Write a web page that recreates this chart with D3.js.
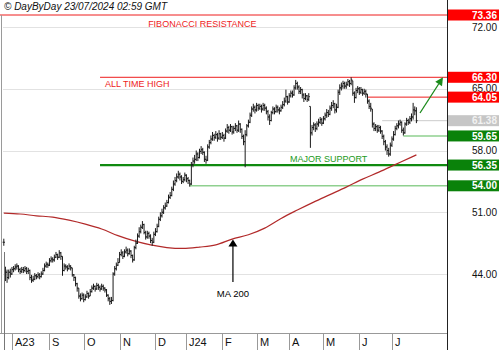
<!DOCTYPE html>
<html><head><meta charset="utf-8">
<script src="https://cdn.jsdelivr.net/npm/d3@7"></script>
<style>body{margin:0;background:#fff}svg{display:block}text{font-family:"Liberation Sans",Arial,Helvetica,sans-serif}</style>
</head><body><svg id="c" width="500" height="350"></svg>
<script>
// ---------- DATA ----------
const startDate = "2023-07-25";
const holidays = ["2023-12-25","2023-12-26","2024-01-01","2024-03-29","2024-04-01","2024-05-01"];
const closes = [
47.6,44.2,43.6,44.2,44.0,44.5,44.6,44.8,44.9,44.5,
44.3,44.5,44.4,44.6,44.3,44.4,43.6,43.3,43.4,43.8,
43.7,43.9,43.7,44.0,44.4,44.9,45.1,45.0,45.5,45.7,
45.6,45.9,46.2,45.9,46.4,46.0,44.4,44.9,44.8,44.6,
44.9,44.7,43.9,43.6,42.9,42.4,41.5,41.2,41.6,41.1,
41.4,41.8,41.5,42.0,42.4,42.6,42.3,42.7,42.5,42.3,
42.6,42.4,42.2,41.6,41.2,40.9,41.0,44.0,44.6,45.0,
45.3,46.2,46.4,46.0,46.5,46.7,46.3,46.6,46.1,45.6,
47.0,47.5,48.3,48.8,49.3,49.6,48.7,48.2,48.6,48.3,
47.8,47.6,48.5,48.8,49.4,50.2,50.6,51.0,51.5,51.7,
52.1,52.7,52.9,53.6,54.2,54.6,55.0,55.3,55.0,54.5,
54.7,55.2,54.8,54.6,54.2,56.4,56.8,57.0,57.6,57.2,
57.9,58.1,57.8,57.0,56.9,58.4,58.9,59.3,59.7,59.5,
59.8,59.4,59.9,59.5,59.7,59.4,60.2,60.6,60.3,60.7,
60.1,60.5,60.8,60.3,61.0,60.4,59.6,59.0,59.8,60.8,
61.2,62.0,62.7,62.9,62.6,63.1,62.8,63.0,62.7,63.1,
62.8,62.4,61.8,61.4,62.3,62.7,62.4,62.9,62.6,62.5,
62.9,63.2,63.6,64.1,63.5,64.2,64.5,64.3,65.1,65.6,
65.2,64.7,64.9,64.3,63.9,64.2,63.8,64.1,60.0,60.6,
60.9,60.5,61.0,61.2,61.5,61.1,61.6,62.0,62.3,62.1,
62.8,63.1,63.3,62.6,62.9,64.6,65.1,65.3,65.6,65.3,
65.5,65.8,65.6,66.0,64.5,64.0,64.8,65.0,64.6,64.9,
64.5,64.7,64.4,63.6,63.0,62.8,61.0,60.5,60.7,60.3,
60.6,60.2,59.6,59.0,58.4,58.0,57.6,58.6,59.3,59.8,
60.5,60.8,61.0,61.2,60.3,60.0,61.0,61.4,61.2,61.6,
61.8,62.6,62.5,61.38];
const highs = [
48.0,44.8,44.5,44.5,44.6,44.8,44.9,45.1,45.2,45.0,
44.7,44.8,44.8,44.9,44.8,44.7,44.5,43.9,43.8,44.1,
44.0,44.2,44.1,44.3,44.7,45.2,45.4,45.3,45.8,46.0,
45.9,46.2,46.5,46.3,46.7,46.5,46.0,45.2,45.1,45.0,
45.2,45.0,44.7,44.0,43.7,43.0,42.4,41.8,41.9,41.8,
41.7,42.1,41.9,42.3,42.7,42.9,42.7,43.0,42.9,42.7,
42.9,42.8,42.5,42.3,41.7,41.4,41.4,44.2,44.9,45.3,
45.8,46.5,46.8,46.6,46.8,47.1,46.9,46.9,46.7,46.2,
47.2,47.9,48.6,49.3,49.6,50.0,49.7,48.9,48.9,48.8,
48.5,48.1,48.8,49.2,49.7,50.5,51.0,51.4,51.8,52.1,
52.4,53.0,53.3,53.9,54.6,55.0,55.4,55.7,55.5,55.2,
55.0,55.5,55.3,55.0,54.7,56.7,57.2,57.5,58.0,57.8,
58.2,58.5,58.3,57.9,57.4,58.7,59.2,59.7,60.1,59.9,
60.2,60.0,60.3,60.0,60.1,59.9,60.5,61.0,60.8,61.0,
60.8,60.8,61.1,60.9,61.4,61.1,60.5,59.8,60.3,61.0,
61.5,62.3,63.0,63.3,63.1,63.4,63.3,63.3,63.2,63.4,
63.3,63.0,62.6,62.1,62.5,63.0,62.9,63.2,63.1,62.9,
63.2,63.6,64.0,64.9,64.2,64.5,64.8,64.8,65.4,66.0,
65.8,65.4,65.2,65.0,64.5,64.5,64.3,64.5,63.0,60.9,
61.2,61.1,61.3,61.6,61.8,61.7,61.9,62.3,62.7,62.6,
63.1,63.5,63.7,63.4,63.3,64.9,65.5,65.7,65.9,65.8,
65.8,66.1,66.0,66.3,65.9,64.7,65.1,65.3,65.2,65.2,
65.0,65.0,64.9,64.4,63.8,63.4,62.7,61.2,61.0,60.9,
60.9,60.8,60.3,59.8,59.2,58.7,58.3,58.9,59.6,60.2,
60.8,61.1,61.4,61.5,61.3,60.6,61.2,61.7,61.6,61.9,
62.2,63.4,63.0,62.9];
const lows = [
47.2,43.2,43.0,43.4,43.6,43.9,44.2,44.4,44.5,44.2,
44.0,44.1,44.1,44.2,44.0,44.0,43.3,43.0,43.1,43.3,
43.4,43.5,43.4,43.6,43.9,44.3,44.7,44.7,44.9,45.3,
45.3,45.4,45.8,45.6,45.8,45.6,43.8,44.3,44.5,44.3,
44.5,44.4,43.7,43.2,42.6,42.0,41.2,40.9,41.1,40.8,
41.0,41.3,41.2,41.5,41.9,42.2,42.0,42.2,42.2,42.0,
42.2,42.1,41.9,41.4,40.9,40.5,40.6,40.9,43.8,44.4,
44.9,45.3,46.0,45.7,45.9,46.3,46.0,46.2,45.8,45.3,
45.5,46.8,47.4,48.1,48.6,49.1,48.5,47.9,48.0,48.0,
47.5,47.2,47.5,48.3,48.7,49.3,50.0,50.4,50.8,51.3,
51.6,52.0,52.5,52.8,53.4,54.0,54.4,54.8,54.6,54.2,
54.3,54.5,54.4,54.2,53.9,54.1,56.1,56.5,56.8,56.8,
57.1,57.6,57.5,56.7,56.5,56.8,58.2,58.7,59.1,59.1,
59.3,59.0,59.2,59.2,59.3,59.0,59.3,60.0,59.9,60.1,
59.8,59.9,60.2,60.0,60.1,60.0,59.3,58.6,56.1,59.6,
60.6,61.1,61.8,62.4,62.2,62.4,62.5,62.6,62.3,62.5,
62.5,62.1,61.4,60.9,61.3,62.1,62.1,62.3,62.3,62.1,
62.4,62.7,63.0,63.4,63.2,63.4,64.0,64.0,64.2,64.9,
64.9,64.4,64.4,63.9,63.5,63.7,63.5,63.6,58.3,59.7,
60.3,60.1,60.3,60.7,61.0,60.8,61.0,61.4,61.7,61.8,
62.0,62.5,62.8,62.2,62.3,62.8,64.3,64.8,65.0,65.0,
65.0,65.3,65.2,65.4,64.2,63.4,63.9,64.5,64.3,64.4,
64.2,64.3,64.0,63.3,62.7,62.4,60.6,60.2,60.2,60.0,
60.1,59.9,59.3,58.6,58.0,57.5,57.3,57.4,58.4,59.1,
59.7,60.3,60.5,60.8,60.0,59.7,59.9,60.8,60.9,61.0,
61.3,61.5,62.0,61.1];
const maIndex  = [0,10,20,30,40,50,60,70,80,90,100,110,120,130,140,150,160,170,180,190,200,210,220,230,240,250,253];
const maValues = [50.9,50.8,50.6,50.45,50.1,49.65,49.1,48.35,47.75,47.3,47.0,46.9,47.05,47.3,47.95,48.45,49.2,50.3,51.25,52.15,53.0,53.85,54.75,55.55,56.4,57.25,57.5];
const monthLabels = ["A23","S","O","N","D","J24","F","M","A","M","J","J"];
const gridValues = [72,65,58,51,44];
const levelValues = [73.36,66.30,64.05,61.38,59.65,56.35,54.00];
const levelKinds  = ["res","res","res","last","sup","major","sup"];
const levelStart  = [-2.4,59,223,232,245,59,114];   // bar index where each level line begins
const headerText = "© DayByDay 23/07/2024 02:59 GMT";

// ---------- SETUP ----------
const svg = d3.select("#c");
const hol = new Set(holidays);
const dates = [];
{ let d = new Date(startDate + "T12:00:00Z");
  while (dates.length < closes.length) {
    const wd = d.getUTCDay(), iso = d.toISOString().slice(0,10);
    if (wd !== 0 && wd !== 6 && !hol.has(iso)) dates.push(new Date(d));
    d.setUTCDate(d.getUTCDate() + 1);
  } }
const bars = closes.map((c,i) => {
  const o0 = i ? closes[i-1] : c;
  const o = Math.max(lows[i], Math.min(highs[i], o0));
  return {i, date: dates[i], o, h: highs[i], l: lows[i], c};
});

const plotRight = 447, plotBottom = 333;
const x = d3.scaleLinear().domain([0, closes.length - 1]).range([3.8, 416.4]);
const y = d3.scaleLinear().domain([44, 72]).range([274, 27]);

const kindColor = {res:"#ee1c1c", last:"#cccccc", sup:"#8fd08f", major:"#0f8a0f"};
const kindWidth = {res:1, last:1, sup:1.6, major:2.2};
const boxColor  = {res:"#ff0000", last:"#c6c6c6", sup:"#0a820a", major:"#0a820a"};

// gridlines
svg.append("g").selectAll("line").data(gridValues).join("line")
  .attr("x1", 3).attr("x2", plotRight)
  .attr("y1", d => Math.round(y(d)) + 0.5).attr("y2", d => Math.round(y(d)) + 0.5)
  .attr("stroke", "#e2e2e2").attr("stroke-width", 1);

// level lines
svg.append("g").selectAll("line").data(levelValues).join("line")
  .attr("x1", (d,k) => Math.max(0, x(levelStart[k]))).attr("x2", plotRight)
  .attr("y1", d => y(d)).attr("y2", d => y(d))
  .attr("stroke", (d,k) => kindColor[levelKinds[k]])
  .attr("stroke-width", (d,k) => kindWidth[levelKinds[k]]);

// MA 200
svg.append("path")
  .datum(maIndex.map((ix,k) => [ix, maValues[k]]))
  .attr("fill", "none").attr("stroke", "#b22a2a").attr("stroke-width", 1.2)
  .attr("d", d3.line().x(d => x(d[0])).y(d => y(d[1])).curve(d3.curveMonotoneX));

// OHLC bars
const gb = svg.append("g").attr("stroke", "#1a1a1a").attr("stroke-width", 1);
gb.selectAll("line.hl").data(bars).join("line").attr("class","hl")
  .attr("x1", d => x(d.i)).attr("x2", d => x(d.i))
  .attr("y1", d => y(d.h)).attr("y2", d => y(d.l));
gb.selectAll("line.o").data(bars).join("line").attr("class","o")
  .attr("x1", d => x(d.i) - 1.2).attr("x2", d => x(d.i))
  .attr("y1", d => y(d.o)).attr("y2", d => y(d.o));
gb.selectAll("line.c").data(bars).join("line").attr("class","c")
  .attr("x1", d => x(d.i)).attr("x2", d => x(d.i) + 1.2)
  .attr("y1", d => y(d.c)).attr("y2", d => y(d.c));

// annotations
svg.append("text").attr("x", x(88.5)).attr("y", y(levelValues[0]) + 11.5)
  .attr("font-size", 9).attr("fill", "#ee1c1c").text("FIBONACCI RESISTANCE");
svg.append("text").attr("x", x(62)).attr("y", y(levelValues[1]) + 10)
  .attr("font-size", 9).attr("fill", "#ee1c1c").text("ALL TIME HIGH");
svg.append("text").attr("x", x(175.5)).attr("y", y(levelValues[5]) - 3)
  .attr("font-size", 9).attr("fill", "#1c9a1c").text("MAJOR SUPPORT");

// MA 200 arrow
const maArrowIdx = 140.5;
const maAt = d3.scaleLinear().domain(maIndex).range(maValues)(maArrowIdx);
const ax = x(maArrowIdx), ayTip = y(maAt) + 0.5;
svg.append("line").attr("x1", ax).attr("x2", ax).attr("y1", ayTip + 5).attr("y2", y(43.1))
  .attr("stroke", "#000").attr("stroke-width", 1.2);
svg.append("path").attr("d", `M${ax},${ayTip} L${ax-4.5},${ayTip+7} L${ax+4.5},${ayTip+7} Z`).attr("fill", "#000");
svg.append("text").attr("x", ax).attr("y", y(43.1) + 15).attr("text-anchor", "middle")
  .attr("font-size", 9.5).attr("fill", "#000").text("MA 200");

// green target arrow
const gx1 = x(255.2), gy1 = y(62.25), gx2 = x(269.3), gy2 = y(66.3);
const ang = Math.atan2(gy2 - gy1, gx2 - gx1);
const hl = 8, hw = 4;
const bx = gx2 - hl*Math.cos(ang), by = gy2 - hl*Math.sin(ang);
svg.append("line").attr("x1", gx1).attr("y1", gy1).attr("x2", bx).attr("y2", by)
  .attr("stroke", "#1a8a1a").attr("stroke-width", 1.3);
svg.append("path").attr("fill", "#1a8a1a")
  .attr("d", `M${gx2},${gy2} L${bx - hw*Math.sin(ang)},${by + hw*Math.cos(ang)} L${bx + hw*Math.sin(ang)},${by - hw*Math.cos(ang)} Z`);

// frame
svg.append("line").attr("x1", 1.5).attr("x2", 1.5).attr("y1", 15).attr("y2", plotBottom).attr("stroke", "#9a9a9a");
svg.append("line").attr("x1", plotRight + 0.5).attr("x2", plotRight + 0.5).attr("y1", 0).attr("y2", 350).attr("stroke", "#222");
svg.append("line").attr("x1", 0).attr("x2", plotRight).attr("y1", plotBottom + 0.5).attr("y2", plotBottom + 0.5).attr("stroke", "#999");

// x axis month separators
const monthStarts = bars.filter((b,k) => k > 0 && b.date.getUTCMonth() !== bars[k-1].date.getUTCMonth());
const gx = svg.append("g");
gx.selectAll("line").data(monthStarts).join("line")
  .attr("x1", d => Math.round(x(d.i)) + 0.5).attr("x2", d => Math.round(x(d.i)) + 0.5)
  .attr("y1", plotBottom).attr("y2", 350).attr("stroke", "#999");
gx.selectAll("text").data(monthStarts).join("text")
  .attr("x", d => Math.round(x(d.i)) + 3).attr("y", 346)
  .attr("font-size", 11).attr("fill", "#111").text((d,k) => monthLabels[k]);
svg.append("line").attr("x1", 4.5).attr("x2", 4.5).attr("y1", 252).attr("y2", 350).attr("stroke", "#777");

// right axis: plain labels then boxed level labels
svg.append("g").selectAll("text").data(gridValues).join("text")
  .attr("x", 497).attr("y", d => y(d) + 3.6).attr("text-anchor", "end")
  .attr("font-size", 10).attr("fill", "#111").text(d => d.toFixed(2));
const gl = svg.append("g");
gl.selectAll("rect").data(levelValues).join("rect")
  .attr("x", 448).attr("width", 51).attr("y", d => y(d) - 5.5).attr("height", 11)
  .attr("fill", (d,k) => boxColor[levelKinds[k]]);
gl.selectAll("text").data(levelValues).join("text")
  .attr("x", 497).attr("y", d => y(d) + 3.6).attr("text-anchor", "end")
  .attr("font-size", 10).attr("font-weight", "bold")
  .attr("fill", (d,k) => levelKinds[k] === "last" ? "#f2f2f2" : "#fff").text(d => d.toFixed(2));

// header
svg.append("text").attr("x", 4).attr("y", 10).attr("font-size", 10).attr("font-style", "italic")
  .attr("fill", "#111").text(headerText);
</script></body></html>
